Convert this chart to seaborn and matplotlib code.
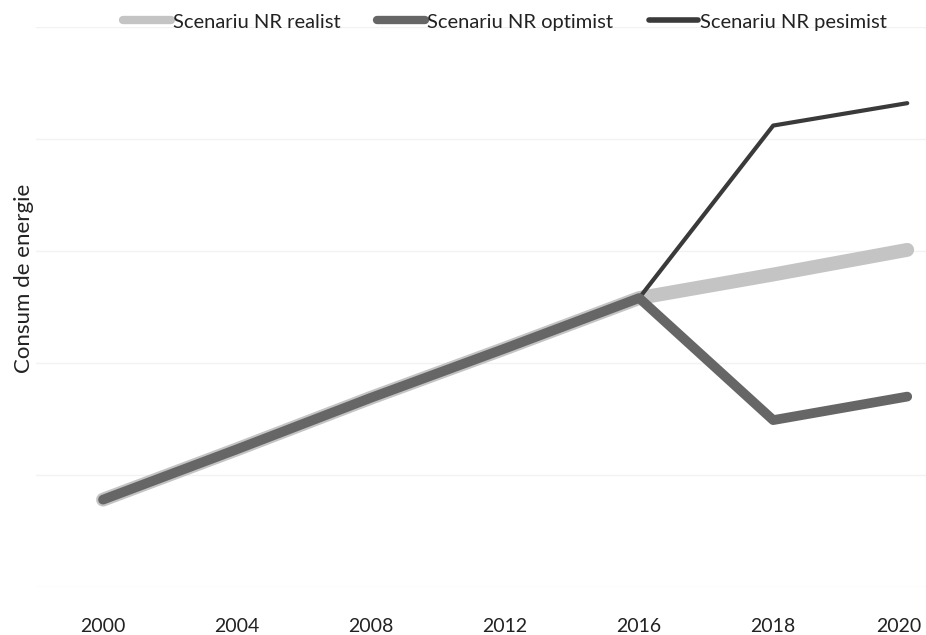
import matplotlib
matplotlib.use("Agg")
import matplotlib.pyplot as plt
import matplotlib.transforms as mtrans
import seaborn as sns
import pandas as pd
from matplotlib.lines import Line2D

years = ["2000", "2004", "2008", "2012", "2016", "2018", "2020"]
realist = [0.78, 1.23, 1.69, 2.13, 2.58, 2.79, 3.01]
optimist = [0.78, 1.23, 1.69, 2.13, 2.58, 1.49, 1.70]
pesimist = [0.78, 1.23, 1.69, 2.13, 2.58, 4.12, 4.32]
names = ["Scenariu NR realist", "Scenariu NR optimist", "Scenariu NR pesimist"]

sns.set_theme(style="white")
plt.rcParams["font.family"] = ["Lato", "DejaVu Sans"]

fig = plt.figure(figsize=(9.26, 6.35), dpi=100)
ax = fig.add_axes([36/926, 1-587/635, 1-36/926, (587-27)/635])

styles = [
    (names[0], realist, "#c4c4c4", 10, 1),
    (names[2], pesimist, "#3a3a3a", 3, 2),
    (names[1], optimist, "#666666", 7, 3),
]
for name, vals, col, lw, z in styles:
    df = pd.DataFrame({"an": years, "val": vals})
    sns.lineplot(data=df, x="an", y="val", ax=ax, color=col, linewidth=lw,
                 zorder=z, solid_capstyle="round", label=name, legend=False)

ax.set_xlim(-0.5, 6.14)
ax.set_ylim(0, 5)
ax.set_yticks([0, 1, 2, 3, 4, 5])
ax.set_yticklabels([])
ax.grid(axis="y", color="#f2f2f2", linewidth=1)
ax.grid(axis="x", visible=False)
for s in ax.spines.values():
    s.set_visible(False)
ax.tick_params(axis="x", labelsize=14, pad=22, colors="#222222", length=0)
ax.tick_params(axis="y", length=0)
ax.set_xlabel("")
ax.set_ylabel("Consum de energie", fontsize=16, color="#222222")
ax.yaxis.set_label_coords(-2/890, (587-278)/560)

fig.canvas.draw()
last = ax.get_xticklabels()[-1]
last.set_transform(last.get_transform() +
                   mtrans.ScaledTranslation(-8/100, 0, fig.dpi_scale_trans))

leg_handles = [
    Line2D([0], [0], color="#c4c4c4", lw=6),
    Line2D([0], [0], color="#666666", lw=6),
    Line2D([0], [0], color="#3a3a3a", lw=4),
]
fig.legend(leg_handles, names, loc="center", bbox_to_anchor=(0.545, 1-22/635),
           ncol=3, frameon=False, fontsize=14.5, handlelength=2.4,
           handletextpad=0.1, columnspacing=1.8, labelcolor="#222222")

fig.savefig("out.png", dpi=100)
